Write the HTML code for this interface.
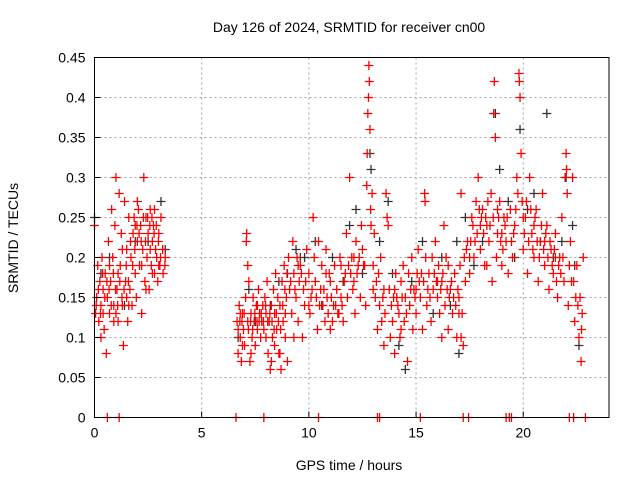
<!DOCTYPE html>
<html><head><meta charset="utf-8"><style>
html,body{margin:0;padding:0;background:#fff}
svg{display:block;font-family:"Liberation Sans",sans-serif}
</style></head><body>
<svg id="chart" width="640" height="480">
<g id="grid"></g>
<g id="black"></g>
<g id="red"></g>
<rect x="94.5" y="57.5" width="514.5" height="360" fill="none" stroke="#000"/>
<g id="axes"></g>
<text x="349" y="32" font-size="14" text-anchor="middle">Day 126 of 2024, SRMTID for receiver cn00</text>
<text x="349" y="470" font-size="14" text-anchor="middle">GPS time / hours</text>
<text x="18" y="238" font-size="14" text-anchor="middle" transform="rotate(-90 18 238)">SRMTID / TECUs</text>
</svg>
<script>
const xTicks=[0,5,10,15,20];
const yTicks=[0,0.05,0.1,0.15,0.2,0.25,0.3,0.35,0.4,0.45];
const yTickLabels=["0","0.05","0.1","0.15","0.2","0.25","0.3","0.35","0.4","0.45"];
const redPts=[[0.0,0.24],[0.05,0.13],[0.1,0.15],[0.15,0.19],[0.2,0.12],[0.25,0.17],[0.3,0.14],[0.35,0.2],[0.4,0.16],[0.45,0.11],[0.5,0.18],[0.55,0.08],[0.6,0.15],[0.65,0.22],[0.7,0.13],[0.75,0.17],[0.8,0.26],[0.85,0.2],[0.9,0.14],[0.95,0.24],[1.0,0.3],[1.05,0.16],[1.1,0.12],[1.15,0.28],[1.2,0.19],[1.25,0.23],[1.3,0.14],[1.35,0.09],[1.4,0.27],[1.45,0.17],[1.5,0.21],[1.55,0.12],[1.6,0.25],[1.65,0.16],[1.7,0.2],[1.75,0.14],[1.8,0.23],[1.85,0.25],[1.9,0.18],[1.95,0.15],[2.0,0.22],[2.05,0.26],[2.1,0.19],[2.15,0.24],[2.2,0.13],[2.25,0.21],[2.3,0.3],[2.35,0.17],[2.4,0.25],[2.45,0.2],[2.5,0.23],[2.55,0.16],[2.6,0.26],[2.65,0.19],[2.7,0.22],[2.75,0.24],[2.8,0.18],[2.85,0.21],[2.9,0.2],[2.95,0.17],[3.0,0.23],[3.05,0.19],[3.1,0.25],[3.2,0.18],[3.3,0.2],[0.3,0.1],[0.9,0.12],[1.1,0.18],[1.5,0.15],[2.0,0.27],[2.4,0.16],[2.8,0.26],[3.0,0.19],[1.3,0.21],[0.7,0.19],[1.9,0.24],[2.6,0.21],
[0.08,0.14],[0.18,0.16],[0.28,0.13],[0.38,0.18],[0.48,0.15],[0.58,0.17],[0.68,0.16],[0.78,0.14],[0.88,0.18],[0.98,0.16],[1.08,0.14],[1.18,0.17],[1.28,0.15],[1.38,0.16],[1.48,0.19],[1.58,0.17],[1.68,0.22],[1.78,0.19],[1.88,0.21],[1.98,0.24],[2.08,0.23],[2.18,0.22],[2.28,0.25],[2.38,0.22],[2.48,0.25],[2.58,0.24],[2.68,0.25],[2.78,0.23],[2.88,0.24],[2.98,0.22],[3.08,0.2],[3.18,0.21],[3.28,0.19],[0.4,0.13],[1.0,0.13],[1.6,0.14],[2.2,0.19],[2.7,0.18],
[6.65,0.12],[6.7,0.08],[6.75,0.14],[6.8,0.1],[6.85,0.07],[6.9,0.13],[6.95,0.11],[7.0,0.09],[7.05,0.15],[7.1,0.23],[7.15,0.12],[7.2,0.17],[7.25,0.07],[7.3,0.13],[7.35,0.1],[7.4,0.15],[7.45,0.12],[7.5,0.09],[7.55,0.14],[7.6,0.11],[7.65,0.16],[7.7,0.13],[7.75,0.1],[7.8,0.12],[7.85,0.14],[7.9,0.11],[7.95,0.15],[8.0,0.13],[8.05,0.17],[8.1,0.08],[8.15,0.12],[8.2,0.06],[8.25,0.14],[8.3,0.1],[8.35,0.16],[8.4,0.13],[8.45,0.18],[8.5,0.11],[8.55,0.15],[8.6,0.08],[8.65,0.14],[8.7,0.06],[8.75,0.17],[8.8,0.12],[8.85,0.19],[8.9,0.1],[8.95,0.15],[9.0,0.07],[7.15,0.19],[6.8,0.13],[7.6,0.14],[8.0,0.1],[8.4,0.09],[8.9,0.13],
[6.7,0.11],[6.78,0.12],[6.88,0.12],[6.98,0.13],[7.08,0.22],[7.18,0.11],[7.28,0.12],[7.38,0.11],[7.48,0.13],[7.58,0.12],[7.68,0.12],[7.78,0.13],[7.88,0.12],[7.98,0.14],[8.08,0.12],[8.18,0.13],[8.28,0.12],[8.38,0.11],[8.48,0.13],[8.58,0.12],[8.68,0.11],[8.78,0.14],[8.88,0.16],[8.98,0.18],[6.9,0.09],[7.3,0.08],[8.25,0.07],[8.65,0.08],
[9.05,0.2],[9.1,0.16],[9.2,0.13],[9.25,0.22],[9.3,0.18],[9.4,0.15],[9.45,0.2],[9.5,0.12],[9.55,0.17],[9.6,0.19],[9.7,0.1],[9.75,0.16],[9.8,0.14],[9.9,0.21],[10.0,0.18],[10.05,0.13],[10.1,0.15],[10.2,0.25],[10.25,0.2],[10.3,0.17],[10.4,0.11],[10.45,0.22],[10.5,0.14],[10.6,0.19],[10.7,0.16],[10.75,0.12],[10.8,0.21],[10.9,0.13],[11.0,0.17],[11.05,0.15],[11.1,0.12],[11.2,0.19],[11.25,0.14],[11.3,0.16],[11.4,0.13],[11.45,0.2],[11.5,0.15],[11.6,0.12],[11.7,0.18],[11.75,0.23],[11.8,0.15],[11.9,0.3],[12.0,0.2],[12.1,0.17],[12.15,0.13],[12.2,0.22],[12.3,0.19],[12.4,0.15],[12.45,0.24],[12.5,0.21],[12.6,0.19],[12.65,0.14],[12.7,0.29],[12.75,0.38],[12.8,0.44],[12.82,0.42],[12.85,0.36],[12.9,0.24],[12.95,0.28],[13.0,0.19],[13.05,0.23],[13.1,0.15],[13.2,0.11],[13.25,0.18],[13.3,0.14],[13.35,0.2],[13.4,0.12],[13.5,0.16],[13.55,0.13],[13.6,0.28],[13.7,0.24],[13.75,0.16],[13.8,0.1],[13.85,0.14],[13.9,0.12],[14.0,0.08],[14.05,0.18],[14.1,0.15],[14.2,0.13],[14.25,0.1],[14.3,0.17],[14.4,0.19],[14.45,0.12],[14.5,0.15],[14.6,0.07],[14.65,0.18],[14.7,0.14],[14.8,0.2],[14.85,0.11],[14.9,0.16],[15.0,0.13],[15.05,0.18],[15.1,0.21],[15.2,0.15],[15.3,0.11],[15.35,0.17],[15.4,0.28],[15.45,0.2],[15.5,0.14],[15.6,0.18],[15.7,0.12],[15.75,0.2],[15.8,0.16],[15.9,0.22],[16.0,0.15],[16.05,0.19],[16.1,0.13],[16.2,0.17],[16.3,0.24],[16.35,0.14],[16.4,0.2],[16.5,0.11],[16.6,0.16],[16.7,0.13],[16.8,0.18],[16.9,0.1],[17.0,0.15],[17.05,0.19],[17.1,0.28],[17.15,0.13],[17.2,0.09],[17.3,0.17],[17.4,0.22],[17.5,0.18],[17.6,0.25],[17.7,0.2],[17.8,0.27],[17.85,0.23],[17.9,0.3],[18.0,0.21],[18.1,0.26],[18.2,0.19],[18.3,0.24],[18.4,0.22],[18.5,0.28],[18.55,0.17],[18.6,0.25],[18.65,0.42],[18.7,0.35],[18.75,0.2],[18.8,0.23],[18.9,0.27],[19.0,0.19],[19.1,0.25],[19.2,0.22],[19.3,0.18],[19.4,0.26],[19.5,0.2],[19.6,0.24],[19.7,0.3],[19.8,0.43],[19.85,0.4],[19.9,0.33],[19.95,0.27],[20.0,0.21],[20.1,0.25],[20.2,0.18],[20.3,0.3],[20.4,0.23],[20.5,0.2],[20.6,0.26],[20.7,0.17],[20.8,0.22],[20.9,0.28],[21.0,0.19],[21.1,0.24],[21.2,0.16],[21.3,0.21],[21.4,0.18],[21.5,0.23],[21.6,0.15],[21.7,0.2],[21.8,0.25],[21.9,0.17],[22.0,0.33],[22.05,0.28],[22.1,0.14],[22.2,0.22],[22.3,0.3],[22.35,0.17],[22.4,0.12],[22.5,0.19],[22.6,0.1],[22.65,0.15],[22.7,0.07],[22.75,0.13],[22.8,0.2],
[9.5,0.19],[10.8,0.18],[11.5,0.19],[12.1,0.2],[14.0,0.16],[15.0,0.16],[16.0,0.17],[17.5,0.2],[18.0,0.24],[18.3,0.19],[19.0,0.23],[20.5,0.24],[21.0,0.22],[21.5,0.2],[13.0,0.16],[10.0,0.14],[16.5,0.19],[17.0,0.13],[18.8,0.26],[20.0,0.25],
[9.15,0.17],[9.35,0.16],[9.65,0.18],[9.85,0.17],[10.15,0.16],[10.35,0.15],[10.55,0.16],[10.65,0.14],[10.85,0.15],[10.95,0.18],[11.15,0.14],[11.35,0.13],[11.55,0.14],[11.65,0.17],[11.85,0.19],[11.95,0.18],[12.05,0.16],[12.25,0.18],[12.35,0.2],[12.55,0.19],[12.72,0.33],[12.78,0.4],[12.88,0.26],[13.15,0.17],[13.45,0.15],[13.65,0.25],[13.95,0.15],[14.15,0.14],[14.35,0.15],[14.55,0.13],[14.75,0.16],[14.95,0.15],[15.15,0.17],[15.25,0.18],[15.42,0.27],[15.55,0.16],[15.65,0.15],[15.85,0.18],[15.95,0.17],[16.15,0.16],[16.25,0.18],[16.45,0.16],[16.55,0.15],[16.65,0.17],[16.75,0.15],[16.85,0.14],[16.95,0.16],[17.25,0.2],[17.35,0.21],[17.55,0.22],[17.65,0.24],[17.75,0.22],[17.95,0.26],[18.05,0.25],[18.15,0.23],[18.25,0.25],[18.35,0.27],[18.45,0.24],[18.62,0.38],[18.85,0.25],[18.95,0.22],[19.05,0.21],[19.15,0.24],[19.25,0.25],[19.45,0.22],[19.55,0.23],[19.65,0.26],[19.75,0.28],[19.82,0.42],[20.05,0.23],[20.15,0.27],[20.25,0.22],[20.35,0.26],[20.45,0.21],[20.55,0.25],[20.65,0.22],[20.75,0.2],[20.85,0.24],[20.95,0.21],[21.05,0.23],[21.15,0.2],[21.25,0.22],[21.35,0.19],[21.45,0.21],[21.55,0.17],[21.65,0.19],[21.75,0.18],[21.85,0.2],[21.95,0.3],[22.02,0.31],[22.15,0.19],[22.25,0.17],[22.45,0.15],[22.55,0.14],[22.72,0.11],[14.3,0.11],[13.5,0.09],[17.1,0.1],[9.3,0.1],[11.0,0.11],[16.2,0.1],
[0.6,0],[1.15,0],[6.6,0],[7.9,0],[10.45,0],[13.2,0],[13.3,0],[15.2,0],[17.2,0],[17.45,0],[19.2,0],[19.35,0],[19.45,0],[22.15,0],[22.35,0],[22.9,0]];
const blackPts=[[0.0,0.25],[0.3,0.18],[0.7,0.2],[1.4,0.14],[1.9,0.22],[2.5,0.22],[3.1,0.27],[3.3,0.21],[6.7,0.1],[7.2,0.16],[7.5,0.12],[8.2,0.14],[8.6,0.17],[9.0,0.18],[9.4,0.21],[9.8,0.2],[10.3,0.22],[10.6,0.14],[11.1,0.2],[11.6,0.17],[12.2,0.26],[12.5,0.18],[12.85,0.33],[12.9,0.31],[13.3,0.22],[13.7,0.27],[13.9,0.18],[14.2,0.09],[14.5,0.06],[14.8,0.17],[15.3,0.22],[15.8,0.13],[16.2,0.2],[16.6,0.14],[17.0,0.08],[17.3,0.25],[17.7,0.19],[18.1,0.22],[18.7,0.38],[18.9,0.31],[19.3,0.27],[19.6,0.2],[19.85,0.36],[20.2,0.26],[20.5,0.28],[20.8,0.22],[21.1,0.38],[21.4,0.2],[21.8,0.22],[22.0,0.3],[22.3,0.24],[22.6,0.09],[22.4,0.19],[16.9,0.22],[11.9,0.24],[9.6,0.2]];
const NS="http://www.w3.org/2000/svg";
const X0=94.5,X1=609,Y0=417.5,Y1=57.5,XMAX=24,YMAX=0.45;
function sx(t){return X0+(X1-X0)*t/XMAX;}
function sy(v){return Y0-(Y0-Y1)*v/YMAX;}
function mk(tag,attrs,parent){const e=document.createElementNS(NS,tag);for(const k in attrs)e.setAttribute(k,attrs[k]);parent.appendChild(e);return e;}
const grid=document.getElementById('grid'),axes=document.getElementById('axes');
xTicks.forEach(t=>{
  const x=sx(t);
  if(t>0){const g=mk('line',{x1:x,x2:x,y1:Y1,y2:Y0,stroke:'#a0a0a0','stroke-dasharray':'2,3'},grid);
  
  }
  const tk=mk('line',{x1:x,x2:x,y1:Y0,y2:Y0-6,stroke:'#000'},axes);
  
  
  const tx=mk('text',{x:x,y:Y0+20,'font-size':14,'text-anchor':'middle'},axes);
  tx.textContent=String(t);
  
  
});
yTicks.forEach((v,i)=>{
  const y=sy(v);
  if(v>0&&v<YMAX){const g=mk('line',{x1:X0,x2:X1,y1:y,y2:y,stroke:'#a0a0a0','stroke-dasharray':'2,3'},grid);
  
  }
  const tk=mk('line',{x1:X0,x2:X0+6,y1:y,y2:y,stroke:'#000'},axes);
  
  
  const tx=mk('text',{x:X0-9,y:y+5,'font-size':14,'text-anchor':'end'},axes);
  tx.textContent=yTickLabels[i];
  
  
});
function plot(pts,gid,color){
  const g=document.getElementById(gid);let d='';
  pts.forEach(p=>{const x=sx(p[0]),y=sy(p[1]);d+=`M${x-4.5},${y}h9M${x},${y-4.5}v9`;});
  const path=mk('path',{d:d,stroke:color,'stroke-width':1.3,fill:'none'},g);
  
  
}
plot(blackPts,'black','#333');
plot(redPts,'red','#ff0000');
</script>
</body></html>
